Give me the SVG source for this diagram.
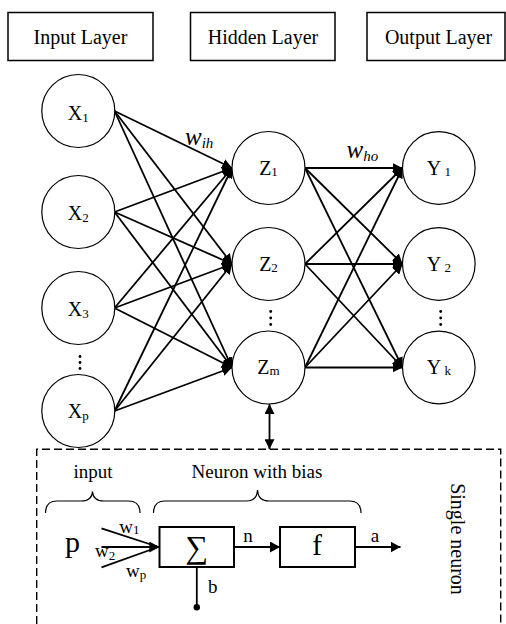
<svg xmlns="http://www.w3.org/2000/svg" width="506" height="624" viewBox="0 0 506 624" font-family="'Liberation Serif', 'Times New Roman', serif">
  <defs>
    <marker id="ah" viewBox="0 0 10 10" refX="10" refY="5" markerUnits="userSpaceOnUse" markerWidth="10" markerHeight="10" orient="auto-start-reverse">
      <path d="M0,0 L10,5 L0,10 z" fill="#000"/>
    </marker>
    <marker id="ahBig" viewBox="0 0 10 11" refX="10" refY="5.5" markerUnits="userSpaceOnUse" markerWidth="10" markerHeight="11" orient="auto">
      <path d="M0,0 L10,5.5 L0,11 z" fill="#000"/>
    </marker>
  </defs>
  <style>
    text { font-family: "Liberation Serif", "Times New Roman", serif; fill: #000; }
    .hdr rect { fill: #fff; stroke: #000; stroke-width: 1.5; }
    .hdr text { font-size: 20px; text-anchor: middle; }
    .node circle { fill: #fff; stroke: #000; stroke-width: 1.2; }
    .node text { font-size: 20px; text-anchor: middle; }
    .sub { font-size: 13px; }
    .edge { stroke: #000; stroke-width: 1.8; fill: none; marker-end: url(#ah); }
    .wlbl { font-style: italic; font-size: 25px; }
    .wsub { font-style: italic; font-size: 15px; }
    .dots circle { fill: #000; }
    .blk { fill: #fff; stroke: #000; stroke-width: 2; }
    .ln { stroke: #000; stroke-width: 1.8; fill: none; }
    .brace { stroke: #000; stroke-width: 1.2; fill: none; }
    .t19 { font-size: 19px; }
  </style>

  <rect width="506" height="624" fill="#fff"/>

  <!-- layer headers -->
  <g id="hdr-input" class="hdr">
    <rect x="8" y="12.5" width="145" height="48"/>
    <text x="80.5" y="43.5">Input Layer</text>
  </g>
  <g id="hdr-hidden" class="hdr">
    <rect x="190.5" y="12.5" width="144.5" height="48"/>
    <text x="263" y="43.5">Hidden Layer</text>
  </g>
  <g id="hdr-output" class="hdr">
    <rect x="367" y="12.5" width="138" height="48"/>
    <text x="438.5" y="43.5">Output Layer</text>
  </g>

  <!-- connectors -->
  <g id="connectors">
    <!-- input -> hidden -->
    <line class="edge" x1="114.5" y1="111" x2="232" y2="168"/>
    <line class="edge" x1="114.5" y1="111" x2="232" y2="264"/>
    <line class="edge" x1="114.5" y1="111" x2="232" y2="367.5"/>
    <line class="edge" x1="114.5" y1="212" x2="232" y2="168"/>
    <line class="edge" x1="114.5" y1="212" x2="232" y2="264"/>
    <line class="edge" x1="114.5" y1="212" x2="232" y2="367.5"/>
    <line class="edge" x1="114.5" y1="308" x2="232" y2="168"/>
    <line class="edge" x1="114.5" y1="308" x2="232" y2="264"/>
    <line class="edge" x1="114.5" y1="308" x2="232" y2="367.5"/>
    <line class="edge" x1="114.5" y1="411" x2="232" y2="168"/>
    <line class="edge" x1="114.5" y1="411" x2="232" y2="264"/>
    <line class="edge" x1="114.5" y1="411" x2="232" y2="367.5"/>
    <!-- hidden -> output -->
    <line class="edge" x1="305" y1="168" x2="402.5" y2="168"/>
    <line class="edge" x1="305" y1="168" x2="402.5" y2="264"/>
    <line class="edge" x1="305" y1="168" x2="402.5" y2="367.5"/>
    <line class="edge" x1="305" y1="264" x2="402.5" y2="168"/>
    <line class="edge" x1="305" y1="264" x2="402.5" y2="264"/>
    <line class="edge" x1="305" y1="264" x2="402.5" y2="367.5"/>
    <line class="edge" x1="305" y1="367.5" x2="402.5" y2="168"/>
    <line class="edge" x1="305" y1="367.5" x2="402.5" y2="264"/>
    <line class="edge" x1="305" y1="367.5" x2="402.5" y2="367.5"/>
    <!-- link between Zm and the neuron detail -->
    <line class="ln" x1="269.5" y1="404" x2="269.5" y2="449.3" style="marker-start:url(#ah);marker-end:url(#ah)"/>
  </g>

  <!-- weight labels -->
  <text x="185" y="145" class="wlbl">w<tspan class="wsub" dy="3">ih</tspan></text>
  <text x="346.5" y="158" class="wlbl">w<tspan class="wsub" dy="3">ho</tspan></text>

  <!-- input nodes -->
  <g id="X1" class="node"><circle cx="78.3" cy="111" r="36.5"/><text x="78.3" y="120">X<tspan class="sub" dy="2">1</tspan></text></g>
  <g id="X2" class="node"><circle cx="78.3" cy="212" r="36.5"/><text x="78.3" y="220">X<tspan class="sub" dy="2">2</tspan></text></g>
  <g id="X3" class="node"><circle cx="78.3" cy="308" r="36.5"/><text x="78.3" y="316">X<tspan class="sub" dy="2">3</tspan></text></g>
  <g id="Xp" class="node"><circle cx="78.3" cy="411" r="36.5"/><text x="78.3" y="418">X<tspan class="sub" dy="2">p</tspan></text></g>

  <!-- hidden nodes -->
  <g id="Z1" class="node"><circle cx="268.5" cy="168" r="36.5"/><text x="268.5" y="175">Z<tspan class="sub" dy="1">1</tspan></text></g>
  <g id="Z2" class="node"><circle cx="268.5" cy="264" r="36.5"/><text x="268.5" y="271">Z<tspan class="sub" dy="1">2</tspan></text></g>
  <g id="Zm" class="node"><circle cx="268.5" cy="367.5" r="36.5"/><text x="268.5" y="374">Z<tspan class="sub" dy="1">m</tspan></text></g>

  <!-- output nodes -->
  <g id="Y1" class="node"><circle cx="438.8" cy="168" r="36.3"/><text x="438.8" y="175">Y<tspan class="sub" dy="1"> 1</tspan></text></g>
  <g id="Y2" class="node"><circle cx="438.8" cy="264" r="36.3"/><text x="438.8" y="271">Y<tspan class="sub" dy="1"> 2</tspan></text></g>
  <g id="Yk" class="node"><circle cx="438.8" cy="367.5" r="36.3"/><text x="438.8" y="374">Y<tspan class="sub" dy="1"> k</tspan></text></g>

  <!-- vertical ellipses -->
  <g class="dots">
    <circle cx="80" cy="356.5" r="1.4"/><circle cx="80" cy="362.5" r="1.4"/><circle cx="80" cy="368.5" r="1.4"/>
    <circle cx="270.7" cy="311.5" r="1.4"/><circle cx="270.7" cy="318" r="1.4"/><circle cx="270.7" cy="324.5" r="1.4"/>
    <circle cx="440.7" cy="311.5" r="1.4"/><circle cx="440.7" cy="318" r="1.4"/><circle cx="440.7" cy="324.5" r="1.4"/>
  </g>

  <!-- single neuron detail -->
  <g id="neuron-frame">
    <path d="M36.7,624 L36.7,449.3 L500.7,449.3 L500.7,624" fill="none" stroke="#000" stroke-width="1.4" stroke-dasharray="8 4"/>
  </g>

  <g id="brace-input">
    <path class="brace" d="M45.5,513 Q45.5,501 57,501 L81,501 Q92,501 92.5,491.5 Q93,501 104,501 L128.5,501 Q140,501 140,513"/>
    <text x="93" y="477.5" class="t19" text-anchor="middle">input</text>
  </g>
  <g id="brace-neuron">
    <path class="brace" d="M153.5,513 Q153.5,501 165,501 L246,501 Q257,501 257.5,490 Q258,501 269,501 L349.5,501 Q361,501 361,513"/>
    <text x="257" y="477.5" class="t19" text-anchor="middle">Neuron with bias</text>
  </g>

  <g id="input-p">
    <text x="65" y="552" style="font-size:30px">p</text>
    <line class="ln" x1="101.5" y1="528.3" x2="157" y2="546.5"/>
    <line class="ln" x1="101.5" y1="567.3" x2="157" y2="547.5"/>
    <line class="ln" x1="101.5" y1="547" x2="159.3" y2="547" style="marker-end:url(#ahBig)"/>
    <text x="119.3" y="533.3" class="t19">w<tspan class="sub" dy="1">1</tspan></text>
    <text x="95" y="556.7" class="t19">w<tspan class="sub" dy="3">2</tspan></text>
    <text x="126" y="576.7" class="t19">w<tspan class="sub" dy="2">p</tspan></text>
  </g>

  <g id="sum">
    <rect class="blk" x="159.5" y="527" width="74.5" height="40"/>
    <text x="197" y="558" text-anchor="middle" style="font-size:32px">∑</text>
  </g>

  <g id="bias">
    <line class="ln" x1="196.8" y1="567" x2="196.8" y2="607"/>
    <circle cx="196.8" cy="607.3" r="3.2" fill="#000"/>
    <text x="208" y="593.3" class="t19">b</text>
  </g>

  <g id="n-link">
    <line class="ln" x1="234" y1="547" x2="280" y2="547" style="marker-end:url(#ahBig)"/>
    <text x="248" y="541.5" class="t19" text-anchor="middle">n</text>
  </g>

  <g id="f">
    <rect class="blk" x="280" y="527" width="75" height="40"/>
    <text x="317" y="555" text-anchor="middle" style="font-size:29px">f</text>
  </g>

  <g id="a-out">
    <line class="ln" x1="355" y1="547" x2="400.5" y2="547" style="marker-end:url(#ahBig)"/>
    <text x="375" y="541.5" class="t19" text-anchor="middle">a</text>
  </g>

  <text transform="translate(451,539) rotate(90)" text-anchor="middle" style="font-size:20px">Single neuron</text>
</svg>
